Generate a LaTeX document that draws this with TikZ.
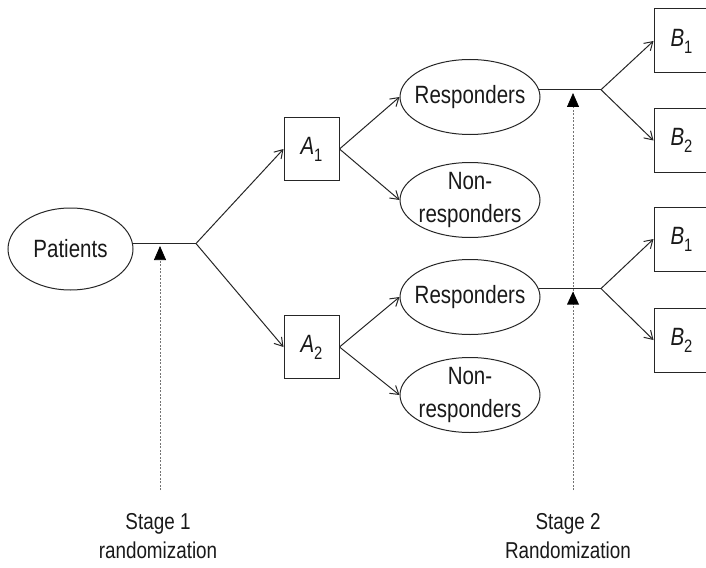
\documentclass[tikz,border=0pt]{standalone}
\usepackage{fontspec}
\setmainfont[FakeStretch=0.82]{Liberation Sans}
\usetikzlibrary{shapes.geometric,arrows.meta}
\newcommand{\subbox}[2]{\textit{#1}\raisebox{-7pt}{\fontsize{18}{18}\selectfont #2}}
\begin{document}
\begin{tikzpicture}[x=1pt,y=-1pt,
  every node/.style={font=\fontsize{25}{33}\selectfont, text=black!90},
  ell/.style={ellipse, draw=black!85, line width=1pt, inner sep=0pt, minimum width=140pt, minimum height=75pt},
  box/.style={rectangle, draw=black!85, line width=1pt, minimum width=55pt, minimum height=63pt, inner sep=0pt},
  conn/.style={draw=black!85, line width=1pt},
  arr/.style={conn, -{Straight Barb[length=8pt,width=10pt]}},
  dline/.style={draw=black!55, line width=0.75pt, dash pattern=on 2pt off 1.5pt},
  tip/.style={dline, -{Triangle[length=14pt,width=12pt,fill=black,color=black]}}
]
\useasboundingbox (0,0) rectangle (706,567);
\clip (0,0) rectangle (706,567);

% nodes
\node[ell, minimum width=125pt, minimum height=82pt, label=center:Patients] (pat) at (70.5,249) {};
\node[box] (a1) at (311.5,149) {\subbox{A}{1}};
\node[box] (a2) at (311.5,347) {\subbox{A}{2}};
\node[ell, label=center:Responders] (r1) at (470,97) {};
\node[ell, label={[align=center]center:Non-\\responders}] (n1) at (470,200) {};
\node[ell, label=center:Responders] (r2) at (470,297) {};
\node[ell, label={[align=center]center:Non-\\responders}] (n2) at (470,395) {};
\node[box, minimum height=64pt] (b1t) at (681.5,41) {\subbox{B}{1}};
\node[box, minimum height=64pt] (b2t) at (681.5,140.5) {\subbox{B}{2}};
\node[box, minimum height=64pt] (b1b) at (681.5,239) {\subbox{B}{1}};
\node[box, minimum height=64pt] (b2b) at (681.5,340) {\subbox{B}{2}};
\node[align=center, font=\fontsize{23}{29}\selectfont] (s1) at (158,536) {Stage 1\\randomization};
\node[align=center, font=\fontsize{23}{29}\selectfont] (s2) at (568,536) {Stage 2\\Randomization};

% junctions
\coordinate (x1) at (196,0);
\coordinate (x2) at (601,0);
\coordinate (j1) at (pat.5 -| x1);
\coordinate (j2) at (r1.6 -| x2);
\coordinate (j3) at (r2.7 -| x2);

% stage 1
\draw[conn] (pat.5) -- (j1);
\draw[arr] (j1) -- (a1.west);
\draw[arr] (j1) -- (a2.west);
\draw[arr] (a1.east) -- (r1.west);
\draw[arr] (a1.east) -- (n1.west);
\draw[arr] (a2.east) -- (r2.west);
\draw[arr] (a2.east) -- (n2.west);

% stage 2
\draw[conn] (r1.6) -- (j2);
\draw[conn] (r2.7) -- (j3);
\draw[arr] (j2) -- (b1t.west);
\draw[arr] (j2) -- (b2t.west);
\draw[arr] (j3) -- (b1b.west);
\draw[arr] (j3) -- (b2b.west);

% randomization markers
\coordinate (d1s) at (160,490);
\coordinate (d1e) at (160,246);
\coordinate (d2s) at (573,490);
\coordinate (d2e) at (573,93);
\draw[tip] (d1s) -- (d1e);
\draw[tip] (d2s) -- (d2e);
\coordinate (t3) at (573,291.5);
\fill[black] (t3) -- ++(6,13) -- ++(-12,0) -- cycle;
\end{tikzpicture}
\end{document}
